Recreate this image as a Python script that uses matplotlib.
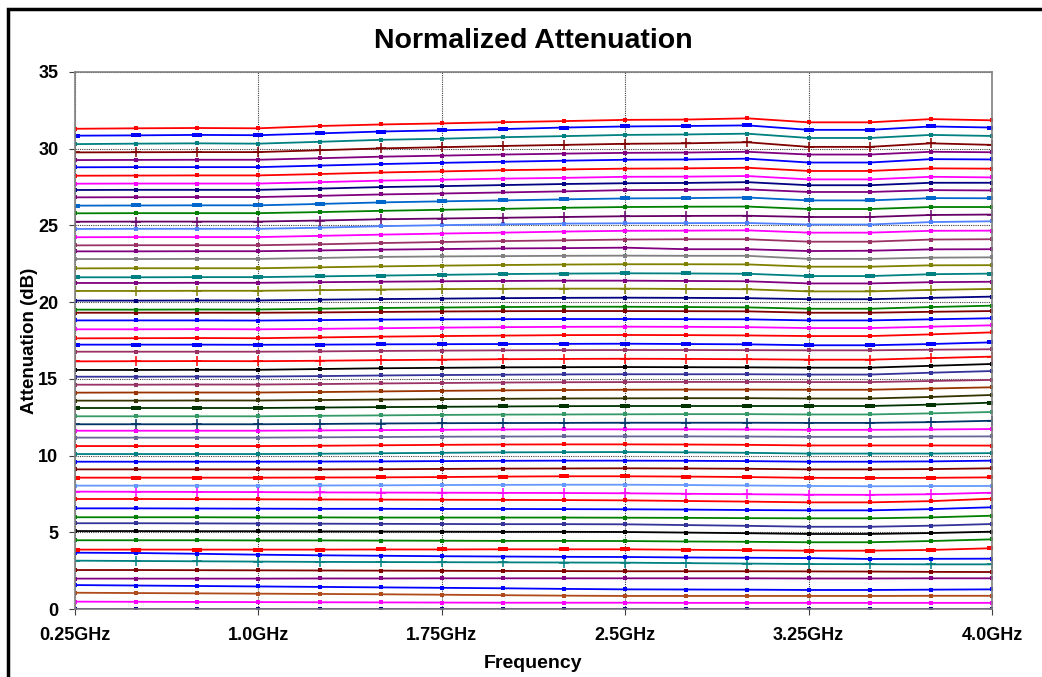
import matplotlib
matplotlib.use("Agg")
import matplotlib.pyplot as plt
from matplotlib.patches import Rectangle

plt.rcParams['font.family'] = ['Liberation Sans', 'DejaVu Sans']
plt.rcParams['font.weight'] = 'bold'

# frequency points (GHz), every 0.25 GHz
freqs = ['0.25GHz', '0.5GHz', '0.75GHz', '1.0GHz', '1.25GHz', '1.5GHz', '1.75GHz', '2.0GHz',
         '2.25GHz', '2.5GHz', '2.75GHz', '3.0GHz', '3.25GHz', '3.5GHz', '3.75GHz', '4.0GHz']
tick_labels = ['0.25GHz', '1.0GHz', '1.75GHz', '2.5GHz', '3.25GHz', '4.0GHz']

# normalized attenuation per state (dB), bottom to top
st01 = [0.00, 0.00, 0.00, 0.00, 0.00, 0.00, 0.00, 0.00, 0.00, 0.00, 0.00, 0.00, 0.00, 0.00, 0.00, 0.00]
st02 = [0.48, 0.47, 0.46, 0.45, 0.44, 0.43, 0.42, 0.41, 0.41, 0.41, 0.40, 0.40, 0.40, 0.40, 0.40, 0.40]
st03 = [1.06, 1.04, 1.02, 1.00, 0.98, 0.96, 0.93, 0.90, 0.87, 0.85, 0.85, 0.85, 0.85, 0.85, 0.86, 0.86]
st04 = [1.56, 1.53, 1.50, 1.47, 1.44, 1.41, 1.38, 1.35, 1.31, 1.28, 1.27, 1.26, 1.24, 1.24, 1.26, 1.28]
st05 = [1.98, 1.98, 1.98, 1.98, 1.99, 1.99, 2.00, 2.00, 2.00, 2.00, 2.00, 2.00, 1.99, 1.99, 2.00, 2.00]
st06 = [2.54, 2.54, 2.53, 2.52, 2.51, 2.50, 2.49, 2.48, 2.47, 2.46, 2.46, 2.46, 2.45, 2.44, 2.42, 2.41]
st07 = [3.15, 3.13, 3.11, 3.09, 3.07, 3.06, 3.05, 3.04, 3.03, 3.02, 2.99, 2.96, 2.93, 2.92, 2.91, 2.91]
st08 = [3.67, 3.65, 3.60, 3.54, 3.50, 3.47, 3.44, 3.42, 3.40, 3.39, 3.36, 3.34, 3.32, 3.26, 3.27, 3.28]
st09 = [3.87, 3.87, 3.87, 3.87, 3.87, 3.88, 3.88, 3.89, 3.89, 3.89, 3.86, 3.83, 3.80, 3.80, 3.85, 3.96]
st10 = [4.48, 4.48, 4.48, 4.47, 4.47, 4.46, 4.45, 4.44, 4.44, 4.43, 4.40, 4.38, 4.35, 4.35, 4.43, 4.54]
st11 = [5.08, 5.08, 5.07, 5.07, 5.06, 5.05, 5.04, 5.03, 5.03, 5.02, 4.98, 4.94, 4.89, 4.89, 4.95, 5.04]
st12 = [5.59, 5.59, 5.58, 5.57, 5.56, 5.55, 5.54, 5.53, 5.53, 5.52, 5.47, 5.42, 5.36, 5.36, 5.43, 5.54]
st13 = [5.98, 5.98, 5.98, 5.97, 5.97, 5.96, 5.96, 5.96, 5.96, 5.95, 5.94, 5.92, 5.91, 5.91, 5.97, 6.08]
st14 = [6.56, 6.56, 6.55, 6.54, 6.53, 6.53, 6.52, 6.52, 6.51, 6.50, 6.48, 6.45, 6.43, 6.43, 6.51, 6.63]
st15 = [7.17, 7.17, 7.16, 7.15, 7.14, 7.13, 7.12, 7.11, 7.10, 7.08, 7.04, 7.00, 6.95, 6.95, 7.03, 7.19]
st16 = [7.65, 7.64, 7.63, 7.62, 7.60, 7.59, 7.58, 7.57, 7.56, 7.54, 7.51, 7.48, 7.45, 7.44, 7.48, 7.58]
st17 = [8.04, 8.04, 8.04, 8.04, 8.05, 8.06, 8.08, 8.09, 8.10, 8.10, 8.08, 8.05, 8.02, 8.00, 8.01, 8.02]
st18 = [8.56, 8.56, 8.56, 8.56, 8.57, 8.58, 8.60, 8.63, 8.65, 8.65, 8.63, 8.60, 8.55, 8.54, 8.55, 8.58]
st19 = [9.10, 9.10, 9.10, 9.10, 9.10, 9.11, 9.13, 9.15, 9.16, 9.17, 9.16, 9.14, 9.10, 9.10, 9.12, 9.17]
st20 = [9.60, 9.60, 9.60, 9.60, 9.61, 9.62, 9.64, 9.66, 9.67, 9.67, 9.66, 9.64, 9.60, 9.60, 9.62, 9.67]
st21 = [10.10, 10.10, 10.10, 10.10, 10.12, 10.15, 10.18, 10.21, 10.22, 10.23, 10.21, 10.18, 10.13, 10.13, 10.13, 10.16]
st22 = [10.62, 10.62, 10.62, 10.62, 10.64, 10.67, 10.70, 10.72, 10.73, 10.73, 10.72, 10.70, 10.66, 10.66, 10.66, 10.65]
st23 = [11.17, 11.17, 11.17, 11.17, 11.19, 11.21, 11.23, 11.24, 11.25, 11.25, 11.25, 11.24, 11.22, 11.22, 11.24, 11.25]
st24 = [11.62, 11.62, 11.62, 11.62, 11.64, 11.66, 11.68, 11.70, 11.71, 11.71, 11.71, 11.70, 11.68, 11.68, 11.70, 11.73]
st25 = [12.04, 12.04, 12.04, 12.04, 12.06, 12.09, 12.11, 12.12, 12.13, 12.14, 12.14, 12.14, 12.13, 12.13, 12.18, 12.27]
st26 = [12.56, 12.56, 12.56, 12.56, 12.59, 12.62, 12.65, 12.67, 12.68, 12.69, 12.70, 12.70, 12.68, 12.68, 12.75, 12.84]
st27 = [13.10, 13.10, 13.10, 13.10, 13.13, 13.16, 13.18, 13.20, 13.22, 13.23, 13.23, 13.23, 13.23, 13.23, 13.32, 13.45]
st28 = [13.58, 13.58, 13.59, 13.59, 13.62, 13.65, 13.68, 13.70, 13.72, 13.73, 13.74, 13.74, 13.72, 13.72, 13.82, 13.95]
st29 = [14.10, 14.11, 14.11, 14.11, 14.14, 14.18, 14.22, 14.25, 14.27, 14.29, 14.30, 14.30, 14.29, 14.29, 14.37, 14.45]
st30 = [14.62, 14.62, 14.63, 14.63, 14.66, 14.70, 14.73, 14.76, 14.78, 14.79, 14.80, 14.80, 14.79, 14.79, 14.86, 14.93]
st31 = [15.14, 15.14, 15.15, 15.15, 15.18, 15.22, 15.25, 15.27, 15.29, 15.30, 15.30, 15.30, 15.28, 15.28, 15.40, 15.51]
st32 = [15.58, 15.58, 15.59, 15.59, 15.64, 15.69, 15.72, 15.75, 15.76, 15.77, 15.76, 15.75, 15.73, 15.73, 15.85, 15.97]
st33 = [16.14, 16.15, 16.16, 16.15, 16.18, 16.22, 16.25, 16.28, 16.30, 16.31, 16.30, 16.28, 16.25, 16.25, 16.35, 16.45]
st34 = [16.77, 16.77, 16.77, 16.77, 16.79, 16.82, 16.84, 16.86, 16.87, 16.88, 16.88, 16.87, 16.86, 16.86, 16.90, 16.93]
st35 = [17.23, 17.23, 17.23, 17.22, 17.23, 17.25, 17.26, 17.27, 17.28, 17.29, 17.27, 17.25, 17.19, 17.19, 17.27, 17.38]
st36 = [17.64, 17.65, 17.66, 17.65, 17.70, 17.75, 17.79, 17.82, 17.85, 17.86, 17.85, 17.83, 17.79, 17.79, 17.90, 18.03]
st37 = [18.23, 18.23, 18.24, 18.23, 18.26, 18.30, 18.34, 18.37, 18.39, 18.40, 18.39, 18.37, 18.31, 18.31, 18.40, 18.49]
st38 = [18.81, 18.81, 18.81, 18.80, 18.83, 18.86, 18.88, 18.89, 18.90, 18.90, 18.89, 18.88, 18.81, 18.81, 18.88, 18.95]
st39 = [19.31, 19.31, 19.31, 19.31, 19.33, 19.36, 19.39, 19.41, 19.42, 19.42, 19.41, 19.40, 19.31, 19.31, 19.37, 19.42]
st40 = [19.51, 19.51, 19.52, 19.52, 19.57, 19.62, 19.65, 19.68, 19.70, 19.70, 19.68, 19.66, 19.57, 19.57, 19.68, 19.77]
st41 = [20.10, 20.10, 20.11, 20.11, 20.16, 20.20, 20.23, 20.26, 20.28, 20.29, 20.28, 20.26, 20.19, 20.19, 20.28, 20.36]
st42 = [20.73, 20.73, 20.74, 20.74, 20.78, 20.82, 20.85, 20.87, 20.88, 20.88, 20.86, 20.84, 20.70, 20.70, 20.80, 20.86]
st43 = [21.25, 21.25, 21.26, 21.26, 21.30, 21.33, 21.36, 21.38, 21.40, 21.40, 21.38, 21.36, 21.22, 21.22, 21.30, 21.33]
st44 = [21.62, 21.62, 21.63, 21.63, 21.68, 21.73, 21.78, 21.83, 21.86, 21.88, 21.87, 21.85, 21.70, 21.70, 21.82, 21.86]
st45 = [22.20, 22.21, 22.21, 22.21, 22.27, 22.33, 22.38, 22.42, 22.45, 22.47, 22.47, 22.46, 22.31, 22.31, 22.40, 22.41]
st46 = [22.81, 22.81, 22.82, 22.82, 22.88, 22.95, 22.98, 23.00, 23.02, 23.03, 23.02, 23.02, 22.82, 22.82, 22.90, 22.92]
st47 = [23.31, 23.31, 23.32, 23.32, 23.37, 23.42, 23.46, 23.50, 23.52, 23.55, 23.45, 23.45, 23.33, 23.35, 23.44, 23.45]
st48 = [23.70, 23.71, 23.71, 23.71, 23.77, 23.85, 23.92, 23.98, 24.03, 24.08, 24.10, 24.10, 23.94, 23.94, 24.08, 24.10]
st49 = [24.23, 24.24, 24.24, 24.24, 24.32, 24.40, 24.47, 24.53, 24.60, 24.65, 24.66, 24.68, 24.53, 24.53, 24.65, 24.66]
st50 = [24.77, 24.78, 24.78, 24.78, 24.85, 24.95, 25.02, 25.07, 25.12, 25.14, 25.15, 25.16, 25.06, 25.06, 25.22, 25.27]
st51 = [25.24, 25.25, 25.25, 25.25, 25.32, 25.40, 25.45, 25.50, 25.55, 25.60, 25.62, 25.63, 25.55, 25.55, 25.68, 25.71]
st52 = [25.79, 25.80, 25.80, 25.80, 25.87, 25.95, 26.02, 26.08, 26.15, 26.20, 26.22, 26.23, 26.07, 26.07, 26.20, 26.20]
st53 = [26.29, 26.30, 26.31, 26.31, 26.40, 26.50, 26.57, 26.63, 26.70, 26.76, 26.78, 26.82, 26.63, 26.63, 26.78, 26.77]
st54 = [26.83, 26.84, 26.85, 26.85, 26.93, 27.02, 27.08, 27.15, 27.22, 27.30, 27.32, 27.35, 27.18, 27.18, 27.30, 27.28]
st55 = [27.31, 27.32, 27.32, 27.32, 27.40, 27.50, 27.56, 27.63, 27.70, 27.75, 27.77, 27.82, 27.62, 27.62, 27.78, 27.78]
st56 = [27.72, 27.73, 27.73, 27.73, 27.82, 27.92, 27.98, 28.05, 28.10, 28.17, 28.18, 28.22, 28.00, 28.00, 28.17, 28.13]
st57 = [28.24, 28.25, 28.26, 28.26, 28.35, 28.45, 28.52, 28.60, 28.65, 28.70, 28.72, 28.76, 28.55, 28.55, 28.72, 28.70]
st58 = [28.79, 28.80, 28.80, 28.80, 28.90, 29.00, 29.08, 29.15, 29.22, 29.28, 29.30, 29.35, 29.10, 29.10, 29.32, 29.30]
st59 = [29.26, 29.27, 29.28, 29.28, 29.38, 29.48, 29.55, 29.62, 29.68, 29.73, 29.75, 29.80, 29.62, 29.62, 29.80, 29.77]
st60 = [29.76, 29.77, 29.78, 29.78, 29.90, 30.02, 30.10, 30.18, 30.25, 30.32, 30.35, 30.42, 30.12, 30.12, 30.35, 30.25]
st61 = [30.30, 30.33, 30.35, 30.33, 30.45, 30.58, 30.65, 30.75, 30.82, 30.90, 30.93, 30.98, 30.70, 30.70, 30.90, 30.83]
st62 = [30.85, 30.87, 30.90, 30.88, 31.00, 31.12, 31.20, 31.28, 31.38, 31.45, 31.48, 31.52, 31.23, 31.23, 31.45, 31.38]
st63 = [31.30, 31.33, 31.35, 31.33, 31.48, 31.58, 31.65, 31.73, 31.80, 31.88, 31.90, 31.98, 31.72, 31.72, 31.93, 31.85]

states = [st01, st02, st03, st04, st05, st06, st07, st08, st09, st10, st11, st12, st13, st14, st15, st16,
          st17, st18, st19, st20, st21, st22, st23, st24, st25, st26, st27, st28, st29, st30, st31, st32,
          st33, st34, st35, st36, st37, st38, st39, st40, st41, st42, st43, st44, st45, st46, st47, st48,
          st49, st50, st51, st52, st53, st54, st55, st56, st57, st58, st59, st60, st61, st62, st63]

colors = ['#000080', '#FF00FF', '#B04A1A', '#0000FF', '#800080', '#800000', '#008080', '#0000FF',
          '#FF0000', '#008000', '#000000', '#333399', '#008000', '#0000FF', '#FF0000', '#FF00FF',
          '#6699FF', '#FF0000', '#800000', '#0000FF', '#008080', '#FF0000', '#666699', '#FF00FF',
          '#003366', '#339966', '#003300', '#333300', '#993300', '#993366', '#333399', '#000000',
          '#FF0000', '#993366', '#0000FF', '#FF0000', '#FF00FF', '#0000FF', '#800000', '#008000',
          '#000080', '#808000', '#800080', '#008080', '#808000', '#808080', '#800080', '#993366',
          '#FF00FF', '#4F81FF', '#660066', '#008000', '#0066CC', '#800080', '#000080', '#FF00FF',
          '#FF0000', '#0000FF', '#800080', '#800000', '#008080', '#0000FF', '#FF0000']

# which states (1-based, bottom to top) use '+' markers and which use wide bar markers
plus_states = [7, 16, 25, 33, 42, 51, 60]
bar_states = [9, 18, 27, 35, 44, 53, 62]

bar = [(-2.0, -1.0), (2.0, -1.0), (2.0, 1.0), (-2.0, 1.0), (-2.0, -1.0)]

fig = plt.figure(figsize=(10.42, 6.77), dpi=100)
ax = fig.add_axes([75 / 1042, 1 - 609 / 677, (992 - 75) / 1042, (609 - 72) / 677])

x = list(range(len(freqs)))
for i, (vals, col) in enumerate(zip(states, colors), start=1):
    if i in plus_states:
        ax.plot(x, vals, color=col, lw=1.3, marker='+', ms=7, mew=1.1)
    elif i in bar_states:
        ax.plot(x, vals, color=col, lw=1.3, marker=bar, ms=7, mew=0)
    else:
        ax.plot(x, vals, color=col, lw=1.3, marker='s', ms=3.2, mew=0)

ax.set_xlim(0, len(freqs) - 1)
ax.set_ylim(0, 35)
ax.set_xticks(range(0, len(freqs), 3))
ax.set_xticklabels(tick_labels)
ax.set_yticks(range(0, 36, 5))
ax.tick_params(axis='both', labelsize=13, length=4, width=0.8, color='#404040', pad=8)
ax.tick_params(axis='x', pad=9)
for lab in ax.get_xticklabels() + ax.get_yticklabels():
    lab.set_fontweight('bold')
ax.grid(True, color='#404040', linestyle=(0, (1, 1)), linewidth=0.8)
ax.set_axisbelow(True)
for sp in ax.spines.values():
    sp.set_color('#808080')
    sp.set_linewidth(1.2)

ax.set_title('Normalized Attenuation', fontsize=20.5, fontweight='bold', pad=17)
ax.set_xlabel('Frequency', fontsize=14, fontweight='bold', labelpad=8)
ax.set_ylabel('Attenuation (dB)', fontsize=13.5, fontweight='bold', labelpad=0)

# chart border (only left and top edges fall inside the picture)
fig.patches.append(Rectangle((8 / 1042, -0.05), 1.1, 1 - 9 / 677 + 0.05, transform=fig.transFigure,
                             fill=False, edgecolor='black', linewidth=2.5))

fig.savefig('out.png', dpi=100)
